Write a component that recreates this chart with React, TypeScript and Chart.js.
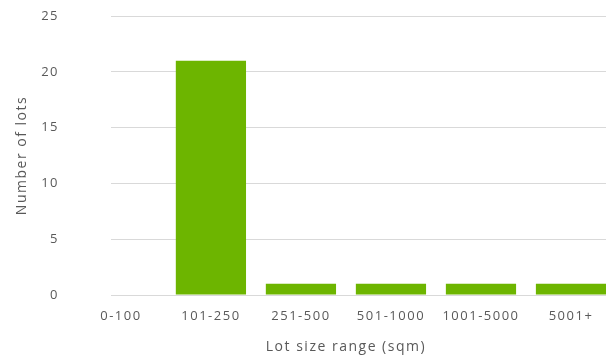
import React, { useEffect, useRef } from "react";
import { Chart, registerables } from "chart.js";

Chart.register(...registerables);

// Lot size categories and the number of lots in each
const sizeRanges: string[] = ["0-100", "101-250", "251-500", "501-1000", "1001-5000", "5001+"];
const lotCounts: number[] = [0, 21, 1, 1, 1, 1];
const yTicks: number[] = [0, 5, 10, 15, 20, 25];
const xTitle = "Lot size range (sqm)";
const yTitle = "Number of lots";

const FONT = "'Open Sans', 'DejaVu Sans', sans-serif";
const TEXT = "#595959";
const BAR = "#6db500";
const GRID = "#d9d9d9";
const SPACING = "1.5px";

// Wider letter spacing for every label the chart draws
const spacingPlugin = {
  id: "letterSpacing",
  beforeUpdate(chart: any) {
    chart.ctx.letterSpacing = SPACING;
  },
  beforeDraw(chart: any) {
    chart.ctx.letterSpacing = SPACING;
  },
};

// Axis title centred under the full band of categories
const xTitlePlugin = {
  id: "xTitle",
  afterDraw(chart: any) {
    const x = chart.scales.x;
    const ctx = chart.ctx;
    const cx = (x.getPixelForValue(-0.5) + x.getPixelForValue(sizeRanges.length - 0.5)) / 2;
    ctx.save();
    ctx.letterSpacing = SPACING;
    ctx.font = `14px ${FONT}`;
    ctx.fillStyle = TEXT;
    ctx.textAlign = "center";
    ctx.textBaseline = "middle";
    ctx.fillText(xTitle, cx, x.bottom - 13);
    ctx.restore();
  },
};

export default function App() {
  const ref = useRef<HTMLCanvasElement | null>(null);

  useEffect(() => {
    if (!ref.current) return;
    const chart = new Chart(ref.current, {
      type: "bar",
      data: {
        datasets: [
          {
            label: yTitle,
            data: lotCounts.map((v, i) => ({ x: i, y: v })),
            backgroundColor: BAR,
            borderWidth: 0,
            barPercentage: 0.78,
            categoryPercentage: 1,
          },
        ],
      },
      plugins: [spacingPlugin, xTitlePlugin],
      options: {
        responsive: false,
        animation: false,
        layout: { padding: { top: 16, left: 0, right: 0, bottom: 0 } },
        plugins: { legend: { display: false }, tooltip: { enabled: false } },
        scales: {
          x: {
            type: "linear",
            offset: false,
            min: -0.11,
            max: sizeRanges.length - 0.5,
            afterBuildTicks: (s: any) => {
              s.ticks = sizeRanges.map((_, i) => ({ value: i }));
            },
            grid: { display: false, drawTicks: false, offset: false },
            border: { display: false },
            ticks: {
              autoSkip: false,
              maxRotation: 0,
              padding: 13,
              color: TEXT,
              font: { family: FONT, size: 13 },
              callback: (v: any) => {
                const n = Number(v);
                return Number.isInteger(n) && sizeRanges[n] !== undefined ? sizeRanges[n] : "";
              },
            },
            afterFit: (s: any) => {
              s.height = 65;
              s.paddingLeft = 0;
              s.paddingRight = 0;
            },
          },
          y: {
            min: 0,
            max: 25,
            afterBuildTicks: (s: any) => {
              s.ticks = yTicks.map((v) => ({ value: v }));
            },
            grid: { color: GRID, lineWidth: 1, drawTicks: false },
            border: { display: false },
            ticks: {
              padding: 52,
              color: TEXT,
              font: { family: FONT, size: 13 },
            },
            title: {
              display: true,
              text: yTitle,
              color: TEXT,
              font: { family: FONT, size: 14 },
              padding: { top: 14, bottom: 0 },
            },
            afterFit: (s: any) => {
              s.width = 111;
              s.paddingTop = 6;
              s.paddingBottom = 6;
            },
          },
        },
      },
    });
    return () => chart.destroy();
  }, []);

  return (
    <div
      style={{
        position: "absolute",
        left: 0,
        top: 0,
        width: 606,
        height: 360,
        overflow: "hidden",
        background: "#ffffff",
      }}
    >
      <canvas ref={ref} width={616} height={360} style={{ display: "block" }} />
    </div>
  );
}
